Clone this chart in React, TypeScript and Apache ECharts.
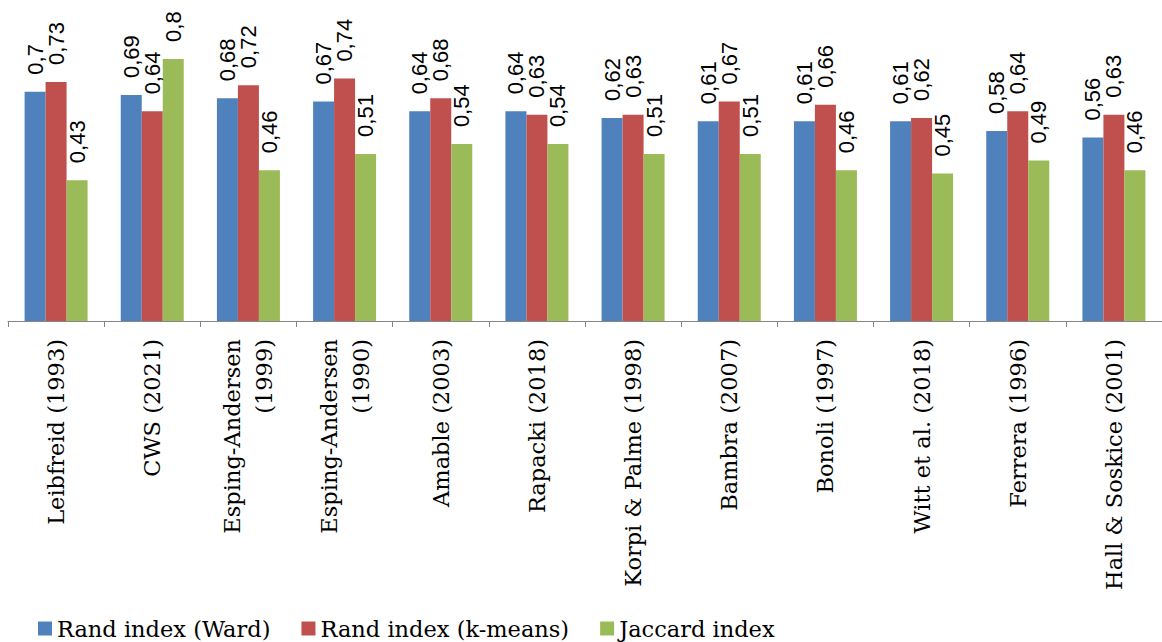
import React, { useEffect, useRef } from "react";
import * as echarts from "echarts";

const categories = [
  "Leibfreid (1993)",
  "CWS (2021)",
  "Esping-Andersen\n(1999)",
  "Esping-Andersen\n(1990)",
  "Amable (2003)",
  "Rapacki (2018)",
  "Korpi & Palme (1998)",
  "Bambra (2007)",
  "Bonoli (1997)",
  "Witt et al. (2018)",
  "Ferrera (1996)",
  "Hall & Soskice (2001)",
];
const randWard = [0.7, 0.69, 0.68, 0.67, 0.64, 0.64, 0.62, 0.61, 0.61, 0.61, 0.58, 0.56];
const randKmeans = [0.73, 0.64, 0.72, 0.74, 0.68, 0.63, 0.63, 0.67, 0.66, 0.62, 0.64, 0.63];
const jaccard = [0.43, 0.8, 0.46, 0.51, 0.54, 0.54, 0.51, 0.51, 0.46, 0.45, 0.49, 0.46];

const seriesNames = ["Rand index (Ward)", "Rand index (k-means)", "Jaccard index"];
const colors = ["#4F81BD", "#C0504D", "#9BBB59"];

export default function App() {
  const ref = useRef<HTMLDivElement>(null);
  useEffect(() => {
    if (!ref.current) return;
    const chart = echarts.init(ref.current, undefined, { renderer: "svg" });
    const label = {
      show: true,
      position: "top",
      rotate: 90,
      align: "left",
      verticalAlign: "middle",
      distance: 17,
      fontFamily: "Liberation Sans",
      fontSize: 22,
      color: "#000",
      formatter: (p: any) => String(p.value).replace(".", ","),
    };
    const datasets = [randWard, randKmeans, jaccard];
    chart.setOption({
      animation: false,
      color: colors,
      grid: { left: 8, top: 0, width: 1160, height: 321 },
      legend: {
        left: 33,
        top: 612,
        icon: "rect",
        itemWidth: 14,
        itemHeight: 14,
        itemGap: 31,
        textStyle: { fontFamily: "DejaVu Serif", fontSize: 22.5, color: "#000" },
        data: seriesNames,
      },
      xAxis: {
        type: "category",
        data: categories,
        axisLine: { lineStyle: { color: "#868686", width: 1 } },
        axisTick: { show: true, length: 6, lineStyle: { color: "#868686" } },
        axisLabel: {
          rotate: 90,
          interval: 0,
          margin: 18,
          fontFamily: "DejaVu Serif",
          fontSize: 22.5,
          lineHeight: 32,
          color: "#000",
        },
      },
      yAxis: { type: "value", min: 0, max: 0.98, show: false },
      series: datasets.map((d, i) => ({
        name: seriesNames[i],
        type: "bar",
        data: d,
        barWidth: 21,
        barGap: "0%",
        label,
      })),
    });
    return () => chart.dispose();
  }, []);
  return (
    <div
      ref={ref}
      style={{ position: "absolute", left: 0, top: 0, width: 1162, height: 642, background: "#fff" }}
    />
  );
}
